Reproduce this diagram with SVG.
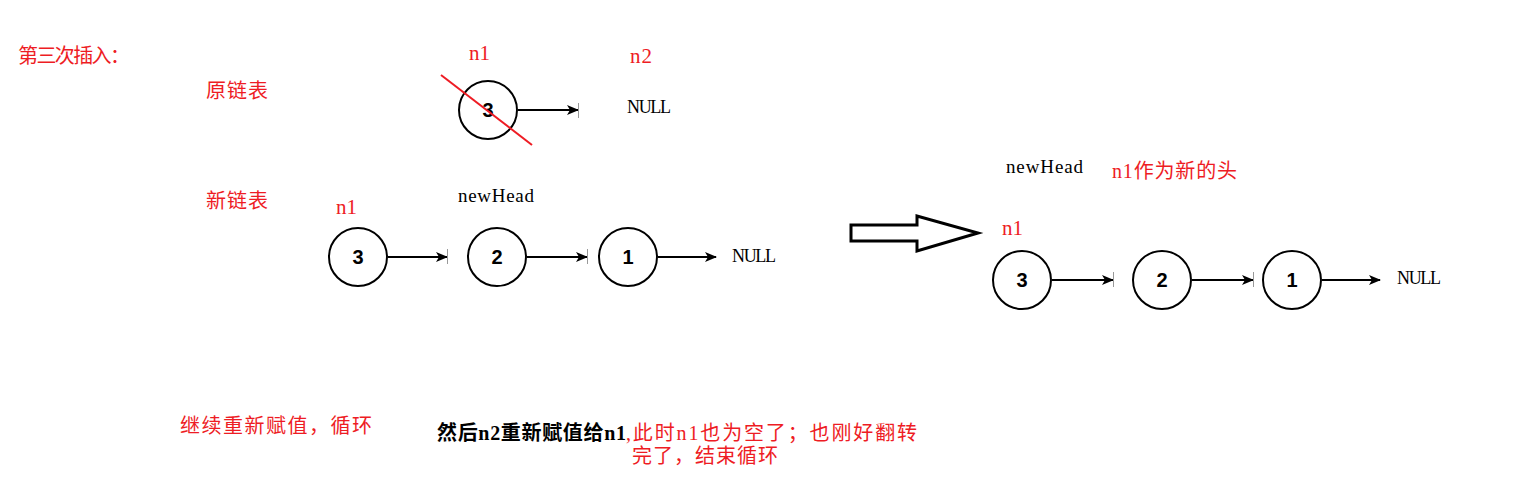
<svg xmlns="http://www.w3.org/2000/svg" width="1517" height="479" viewBox="0 0 1517 479">
<defs>
<marker id="arr" markerWidth="12" markerHeight="10" refX="11" refY="5" orient="auto" markerUnits="userSpaceOnUse">
<path d="M0,0 L12,5 L0,10 L3,5 Z" fill="#000"/>
</marker>
</defs>
<style>
.cn{font-family:"Liberation Serif","Noto Sans CJK SC",serif;font-size:20px;fill:#ee1c24}
.blk{fill:#000}
.lab{font-family:"Liberation Serif","Noto Sans CJK SC",serif;font-size:21px;fill:#ee1c24}
.kw{font-family:"Liberation Serif",serif;font-size:19px;fill:#000}
.null{font-family:"Liberation Serif",serif;font-size:18px;fill:#000}
.node circle{fill:#fff;stroke:#000;stroke-width:2}
.node text{font-family:"Liberation Sans",Arial,sans-serif;font-size:20px;font-weight:bold;fill:#000;text-anchor:middle}
.edge{stroke:#000;stroke-width:2;fill:none;marker-end:url(#arr)}
.tick{stroke:#999;stroke-width:1}
</style>
<rect width="1517" height="479" fill="#fff"/>

<text class="cn" x="18" y="63" textLength="112">第三次插入：</text>
<text class="cn" x="206" y="98" textLength="62">原链表</text>
<text class="cn" x="206" y="208" textLength="62">新链表</text>

<text class="lab" x="469" y="60" textLength="21">n1</text>
<text class="lab" x="630" y="63" textLength="22">n2</text>
<text class="null" x="627" y="113" textLength="44">NULL</text>

<text class="lab" x="336" y="214" textLength="21">n1</text>
<text class="kw" x="458" y="202" textLength="76">newHead</text>
<text class="null" x="732" y="262" textLength="44">NULL</text>

<text class="kw" x="1006" y="173" textLength="77">newHead</text>
<text class="cn" x="1112" y="178" textLength="125">n1作为新的头</text>
<text class="lab" x="1002" y="235" textLength="21">n1</text>
<text class="null" x="1397" y="284" textLength="44">NULL</text>

<text class="cn" x="180" y="433" textLength="192">继续重新赋值，循环</text>
<text class="cn blk" x="437" y="440" textLength="189" font-weight="bold">然后n2重新赋值给n1</text>
<text class="cn" x="626" y="440" textLength="291">,此时n1也为空了；也刚好翻转</text>
<text class="cn" x="632" y="463" textLength="146">完了，结束循环</text>

<g id="connectors">
<line class="edge" x1="518" y1="110" x2="578" y2="110"/>
<line class="tick" x1="578.5" y1="103" x2="578.5" y2="118"/>
<line class="edge" x1="388" y1="257" x2="447" y2="257"/>
<line class="tick" x1="447.5" y1="249" x2="447.5" y2="264"/>
<line class="edge" x1="527" y1="257" x2="587" y2="257"/>
<line class="tick" x1="587.5" y1="249" x2="587.5" y2="264"/>
<line class="edge" x1="658" y1="257" x2="716" y2="257"/>
<line class="edge" x1="1052" y1="280" x2="1113" y2="280"/>
<line class="tick" x1="1113.5" y1="272" x2="1113.5" y2="287"/>
<line class="edge" x1="1192" y1="280" x2="1253" y2="280"/>
<line class="tick" x1="1253.5" y1="272" x2="1253.5" y2="287"/>
<line class="edge" x1="1322" y1="280" x2="1380" y2="280"/>
</g>

<g id="node-top-3" class="node"><circle cx="488" cy="110" r="29"/><text x="488" y="117">3</text></g>
<line id="strike" x1="441" y1="75" x2="532" y2="145" stroke="#ee1c24" stroke-width="2"/>

<g id="node-mid-3" class="node"><circle cx="358" cy="257" r="29"/><text x="358" y="264">3</text></g>
<g id="node-mid-2" class="node"><circle cx="497" cy="257" r="29"/><text x="497" y="264">2</text></g>
<g id="node-mid-1" class="node"><circle cx="628" cy="257" r="29"/><text x="628" y="264">1</text></g>

<g id="big-arrow">
<path d="M851,225 L917,225 L917,216 L978,233 L917,251 L917,241 L851,241 Z" fill="#fff" stroke="#000" stroke-width="3" stroke-linejoin="miter"/>
</g>

<g id="node-right-3" class="node"><circle cx="1022" cy="280" r="29"/><text x="1022" y="287">3</text></g>
<g id="node-right-2" class="node"><circle cx="1162" cy="280" r="29"/><text x="1162" y="287">2</text></g>
<g id="node-right-1" class="node"><circle cx="1292" cy="280" r="29"/><text x="1292" y="287">1</text></g>
</svg>
